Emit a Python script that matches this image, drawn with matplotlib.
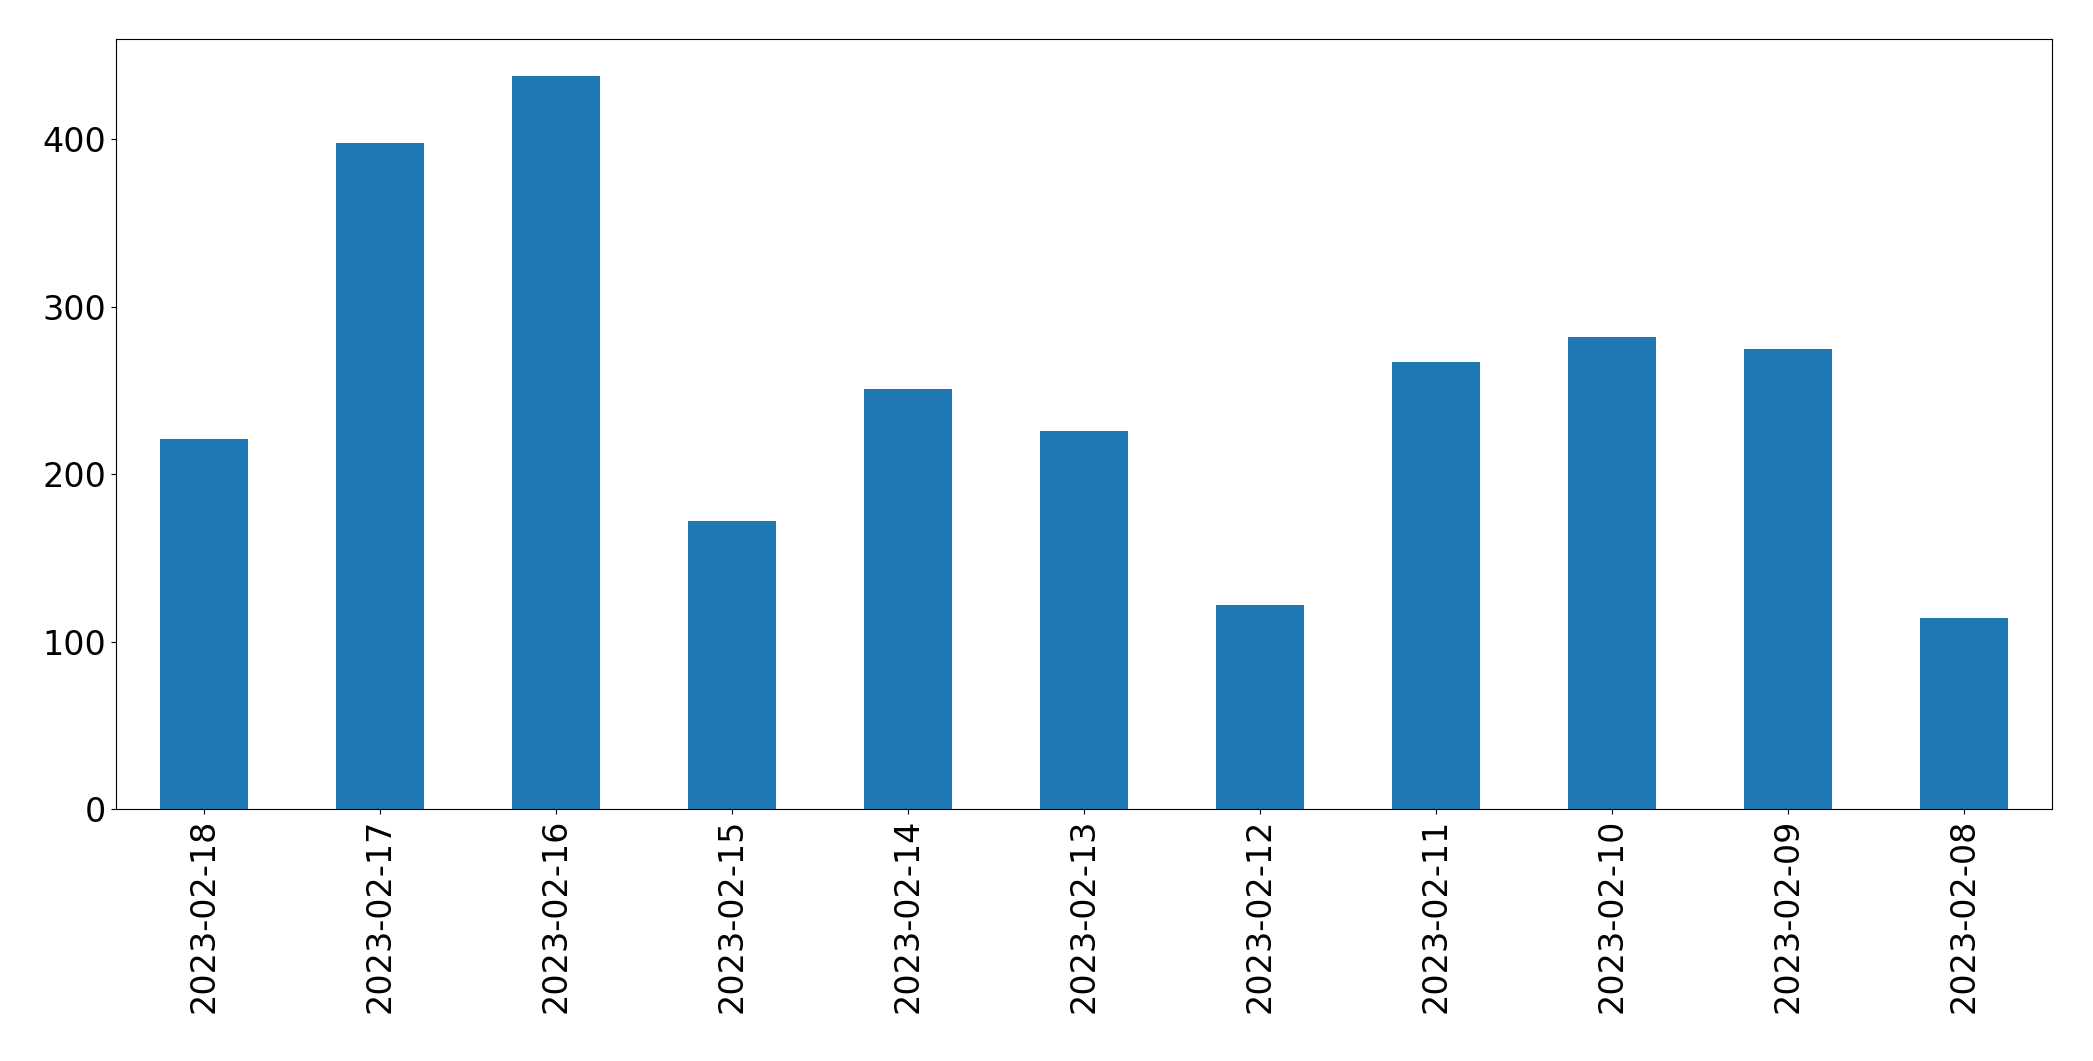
import matplotlib
matplotlib.use('Agg')
import matplotlib.pyplot as plt
import pandas as pd

dates = ['2023-02-18', '2023-02-17', '2023-02-16', '2023-02-15', '2023-02-14',
         '2023-02-13', '2023-02-12', '2023-02-11', '2023-02-10', '2023-02-09',
         '2023-02-08']
counts = [221, 398, 438, 172, 251, 226, 122, 267, 282, 275, 114]

s = pd.Series(counts, index=dates)

fig = plt.figure(figsize=(20.93, 10.61), dpi=100)
ax = fig.add_subplot(111)
s.plot.bar(ax=ax, color='#1f77b4', fontsize=24)

fig.subplots_adjust(left=0.0554, right=0.9804, top=0.9632, bottom=0.2375)
fig.savefig('out.png', dpi=100)
